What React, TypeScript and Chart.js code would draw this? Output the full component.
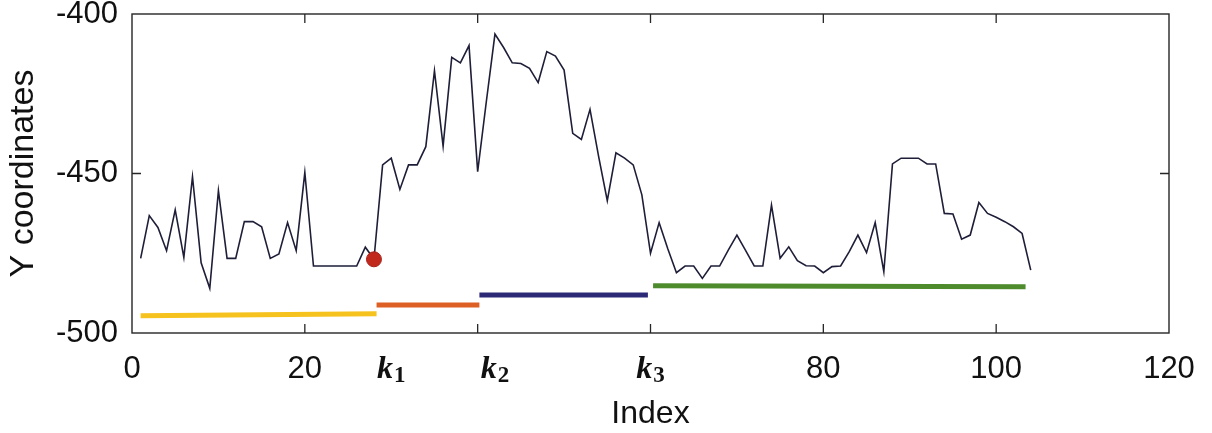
import { useEffect, useRef } from 'react';
import { Chart, registerables } from 'chart.js';

Chart.register(...registerables);

// Y coordinate of each sample, sample index starts at 1
const yCoordinates = [
  -476.6, -463.2, -466.9, -474.2, -461.4, -476.3, -451.0, -478.0, -486.0, -455.4,
  -476.6, -476.6, -465.1, -465.1, -466.7, -476.6, -475.2, -465.4, -474.2, -449.7,
  -479.0, -479.0, -479.0, -479.0, -479.0, -479.0, -473.1, -476.9, -447.3, -445.2,
  -455.0, -447.3, -447.3, -441.6, -417.8, -441.4, -413.6, -415.3, -409.9, -449.4,
  -427.5, -406.3, -410.5, -415.3, -415.5, -417.0, -421.5, -411.8, -413.2, -417.6,
  -437.4, -439.3, -429.9, -444.7, -458.5, -443.5, -445.2, -447.3, -456.7, -475.0,
  -465.4, -473.6, -481.1, -479.0, -479.0, -482.9, -479.0, -479.0, -474.0, -469.3,
  -474.1, -479.0, -479.0, -459.9, -476.6, -473.0, -477.3, -478.9, -479.0, -481.1,
  -479.2, -479.0, -474.5, -469.3, -474.8, -465.4, -480.8, -447.0, -445.2, -445.2,
  -445.2, -447.0, -447.0, -462.5, -462.7, -470.6, -469.3, -459.1, -462.5, -463.7,
  -465.1, -466.7, -468.8, -480.3,
];

// Segment bars under the trace
const segmentStarts = [1, 28.3, 40.2, 60.3];
const segmentEnds = [28.3, 40.2, 59.7, 103.4];
const segmentLevelStart = [-494.6, -491.2, -488.1, -485.2];
const segmentLevelEnd = [-494.0, -491.2, -488.1, -485.5];
const segmentColors = ['#F6C21E', '#DE5F24', '#2C2A76', '#4E8B2D'];

// Detected change point (sample index)
const changePointIndex = 28;

// k labels on the index axis
const kSubscripts = ['1', '2', '3'];
const kLabelAt = [30, 42, 60];

const xTickValues = [0, 20, 40, 60, 80, 100, 120];
const xTickText = ['0', '20', '', '', '80', '100', '120'];
const yTickValues = [-500, -450, -400];

const SANS = '"Liberation Sans", Arial, Helvetica, sans-serif';
const SERIF = '"Liberation Serif", "Times New Roman", serif';

const frameAndLabels = {
  id: 'frameAndLabels',
  afterDraw(chart: any) {
    const { ctx, chartArea, scales } = chart;
    const { left, right, top, bottom } = chartArea;
    const x = scales.x;
    const y = scales.y;
    ctx.save();
    ctx.strokeStyle = '#262626';
    ctx.lineWidth = 1.4;
    ctx.strokeRect(left, top, right - left, bottom - top);

    const tickLen = 9;
    ctx.lineWidth = 1.3;
    ctx.beginPath();
    for (const v of xTickValues) {
      const px = x.getPixelForValue(v);
      if (px <= left + 1 || px >= right - 1) continue;
      ctx.moveTo(px, bottom);
      ctx.lineTo(px, bottom - tickLen);
      ctx.moveTo(px, top);
      ctx.lineTo(px, top + tickLen);
    }
    for (const v of yTickValues) {
      const py = y.getPixelForValue(v);
      if (py <= top + 1 || py >= bottom - 1) continue;
      ctx.moveTo(left, py);
      ctx.lineTo(left + tickLen, py);
      ctx.moveTo(right, py);
      ctx.lineTo(right - tickLen, py);
    }
    ctx.stroke();

    // k labels
    ctx.fillStyle = '#111';
    ctx.textBaseline = 'alphabetic';
    const baseY = bottom + 45;
    const kFont = `italic bold 32px ${SERIF}`;
    const subFont = `bold 23px ${SERIF}`;
    kSubscripts.forEach((sub, i) => {
      const cx = x.getPixelForValue(kLabelAt[i]);
      ctx.font = kFont;
      const kw = ctx.measureText('k').width;
      ctx.font = subFont;
      const sw = ctx.measureText(sub).width;
      const startX = cx - (kw + sw + 1) / 2;
      ctx.font = kFont;
      ctx.textAlign = 'left';
      ctx.fillText('k', startX, baseY);
      ctx.font = subFont;
      ctx.fillText(sub, startX + kw + 1, baseY + 4);
    });
    ctx.restore();
  },
};

export default function App() {
  const canvasRef = useRef<HTMLCanvasElement | null>(null);

  useEffect(() => {
    const canvas = canvasRef.current;
    if (!canvas) return;

    const traceData = yCoordinates.map((v, i) => ({ x: i + 1, y: v }));
    const segmentSets = segmentStarts.map((s, i) => ({
      type: 'line' as const,
      data: [
        { x: s, y: segmentLevelStart[i] },
        { x: segmentEnds[i], y: segmentLevelEnd[i] },
      ],
      borderColor: segmentColors[i],
      borderWidth: 5,
      pointRadius: 0,
      borderCapStyle: 'butt' as const,
      order: 3,
    }));

    const chart = new Chart(canvas, {
      type: 'line',
      data: {
        datasets: [
          {
            data: [{ x: changePointIndex, y: yCoordinates[changePointIndex - 1] }],
            showLine: false,
            pointRadius: 7.5,
            pointBackgroundColor: '#C2291D',
            pointBorderColor: '#A8221A',
            pointBorderWidth: 1,
            order: 1,
          },
          {
            data: traceData,
            borderColor: '#1E1E38',
            borderWidth: 1.6,
            pointRadius: 0,
            tension: 0,
            order: 2,
          },
          ...segmentSets,
        ],
      },
      options: {
        animation: false,
        responsive: false,
        devicePixelRatio: 1,
        layout: { padding: { left: 0, right: 43, top: 14, bottom: 0 } },
        plugins: { legend: { display: false }, tooltip: { enabled: false } },
        scales: {
          x: {
            type: 'linear',
            min: 0,
            max: 120,
            grid: { display: false, drawTicks: false },
            border: { display: false },
            afterBuildTicks(scale: any) {
              scale.ticks = xTickValues.map((v) => ({ value: v }));
            },
            afterFit(scale: any) {
              scale.height = 100;
              scale.paddingLeft = 0;
              scale.paddingRight = 0;
            },
            ticks: {
              autoSkip: false,
              maxRotation: 0,
              padding: 18,
              color: '#111',
              font: { family: SANS, size: 31 },
              callback: (value: any) => {
                const k = xTickValues.indexOf(Number(value));
                return k >= 0 ? xTickText[k] : '';
              },
            },
            title: {
              display: true,
              text: 'Index',
              color: '#111',
              font: { family: SANS, size: 32 },
              padding: { top: 0, bottom: 0 },
            },
          },
          y: {
            type: 'linear',
            min: -500,
            max: -400,
            grid: { display: false, drawTicks: false },
            border: { display: false },
            afterBuildTicks(scale: any) {
              scale.ticks = yTickValues.map((v) => ({ value: v }));
            },
            afterFit(scale: any) {
              scale.width = 132;
              scale.paddingTop = 0;
              scale.paddingBottom = 0;
            },
            ticks: {
              padding: 14,
              color: '#111',
              font: { family: SANS, size: 31 },
              callback: (value: any) => String(value),
            },
            title: {
              display: true,
              text: 'Y coordinates',
              color: '#111',
              font: { family: SANS, size: 34 },
              padding: { top: 3, bottom: 0 },
            },
          },
        },
      },
      plugins: [frameAndLabels],
    });

    return () => chart.destroy();
  }, []);

  return (
    <div style={{ position: 'absolute', left: 0, top: 0, width: 1212, height: 433, background: '#fff' }}>
      <canvas ref={canvasRef} width={1212} height={433} style={{ width: 1212, height: 433 }} />
    </div>
  );
}
